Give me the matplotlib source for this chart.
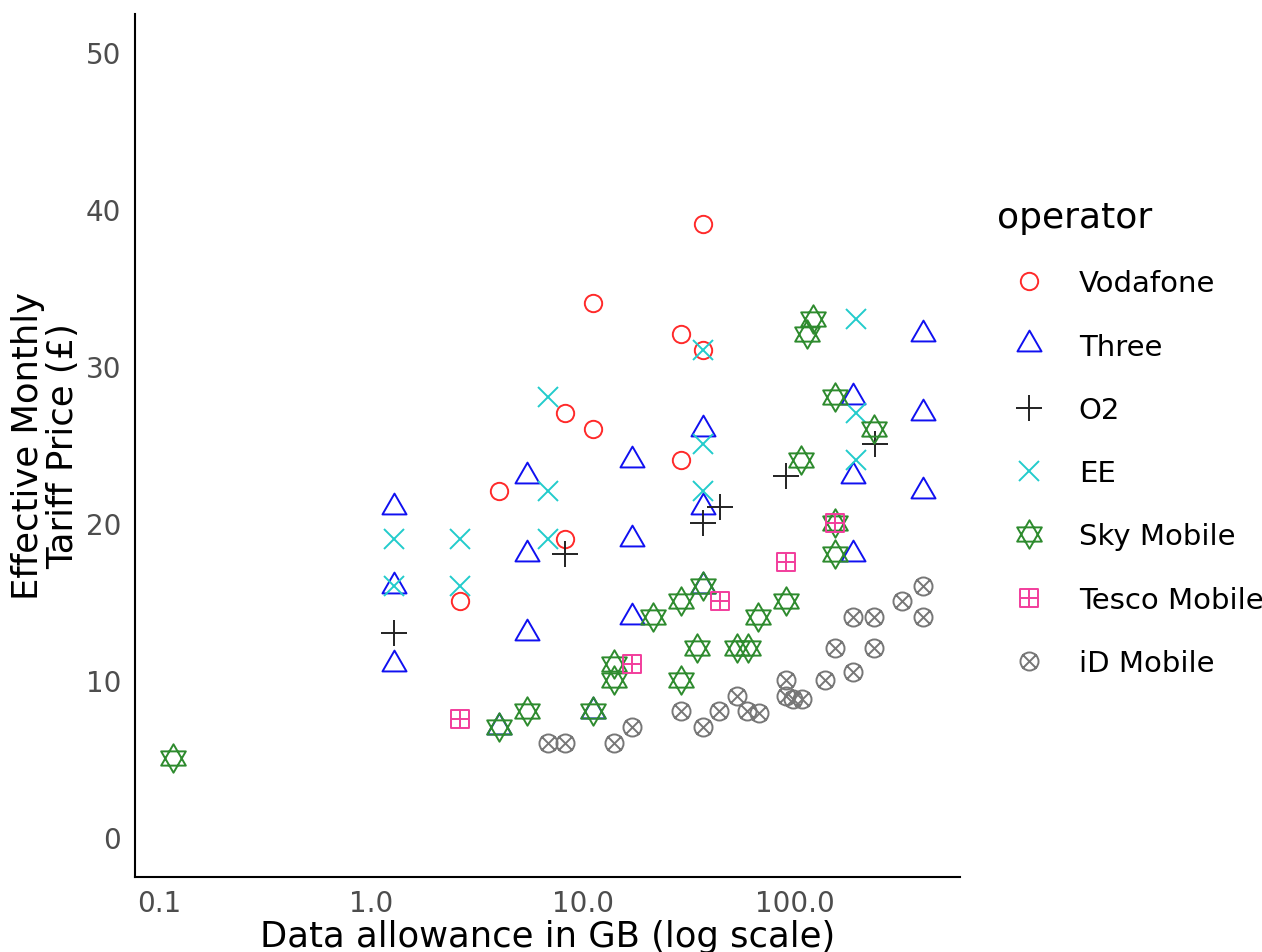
import matplotlib
matplotlib.use("Agg")
import matplotlib.pyplot as plt
import numpy as np
from matplotlib.path import Path

# data allowance (GB) and effective monthly price (GBP) per operator
vodafone_gb = [36.8, 11.1, 29, 36.8, 8.2, 11.1, 29, 4.0, 8.2, 2.63]
vodafone_price = [39, 34, 32, 31, 27, 26, 24, 22, 19, 15]

three_gb = [1.28, 1.28, 1.28, 5.45, 5.45, 5.45, 4.0, 11.1, 17, 17, 17,
            36.8, 36.8, 36.8, 188, 188, 188, 401, 401, 401]
three_price = [21, 16, 11, 23, 18, 13, 7, 8, 24, 19, 14,
               26, 21, 16, 28, 23, 18, 32, 27, 22]

o2_gb = [1.28, 8.2, 36.8, 44.3, 90.7, 238]
o2_price = [13, 18, 20, 21, 23, 25]

ee_gb = [1.28, 1.28, 2.63, 2.63, 6.84, 6.84, 6.84, 36.8, 36.8, 36.8, 194, 194, 194]
ee_price = [19, 16, 19, 16, 28, 22, 19, 31, 25, 22, 33, 27, 24]

sky_gb = [0.116, 4.0, 5.45, 11.1, 14, 14, 21.4, 29, 29, 34.5, 36.8, 53.3, 60,
          66.9, 90.7, 107, 114, 122, 154, 154, 154, 236]
sky_price = [5, 7, 8, 8, 11, 10, 14, 15, 10, 12, 16, 12, 12,
             14, 15, 24, 32, 33, 28, 20, 18, 26]

tesco_gb = [2.63, 17, 44.3, 90.7, 154]
tesco_price = [7.5, 11, 15, 17.5, 20]

id_gb = [6.84, 8.2, 14, 17, 29, 36.8, 43.8, 53.3, 59.4, 67.6, 90.7, 90.7, 98, 108,
         139, 188, 188, 154, 236, 236, 320, 401, 401]
id_price = [6, 6, 6, 7, 8, 7, 8, 9, 8, 7.9, 10, 9, 8.8, 8.8,
            10, 10.5, 14, 12, 12, 14, 15, 16, 14]

# custom ggplot-like shapes
s3 = np.sqrt(3) / 2
tri = Path([(0, 1), (-s3, -0.5), (s3, -0.5), (0, 1)],
           [Path.MOVETO, Path.LINETO, Path.LINETO, Path.CLOSEPOLY])
tri_down = Path([(0, -1), (-s3, 0.5), (s3, 0.5), (0, -1)],
                [Path.MOVETO, Path.LINETO, Path.LINETO, Path.CLOSEPOLY])
hexagram = Path.make_compound_path(tri, tri_down)
sq = Path([(-1, -1), (1, -1), (1, 1), (-1, 1), (-1, -1)],
          [Path.MOVETO, Path.LINETO, Path.LINETO, Path.LINETO, Path.CLOSEPOLY])
cross = Path([(-1, 0), (1, 0), (0, -1), (0, 1)],
             [Path.MOVETO, Path.LINETO, Path.MOVETO, Path.LINETO])
square_plus = Path.make_compound_path(sq, cross)
d = 0.78
xlines = Path([(-d, -d), (d, d), (-d, d), (d, -d)],
              [Path.MOVETO, Path.LINETO, Path.MOVETO, Path.LINETO])
circle_cross = Path.make_compound_path(Path.unit_circle(), xlines)

series = [
    ("Vodafone", vodafone_gb, vodafone_price, "o", 12.5, "#FF2A2A"),
    ("Three", three_gb, three_price, tri, 20, "#1010F0"),
    ("O2", o2_gb, o2_price, "+", 19, "#222222"),
    ("EE", ee_gb, ee_price, "x", 14.5, "#22CCCC"),
    ("Sky Mobile", sky_gb, sky_price, hexagram, 20.5, "#2E8B2E"),
    ("Tesco Mobile", tesco_gb, tesco_price, square_plus, 13, "#F23D9C"),
    ("iD Mobile", id_gb, id_price, circle_cross, 13, "#777777"),
]

fig = plt.figure(figsize=(12.62, 9.53), dpi=100)
ax = fig.add_axes([135 / 1262, 1 - 878 / 953, 825 / 1262, 863 / 953])

for name, xs, ys, mk, ms, col in series:
    ax.plot(xs, ys, linestyle="none", marker=mk, markersize=ms,
            markerfacecolor="none", markeredgecolor=col, markeredgewidth=1.4,
            label=name)

ax.set_xscale("log")
ax.set_xlim(10 ** (-236 / 212), 10 ** (589 / 212))
ax.set_ylim(-2.55, 52.4)
ax.set_xticks([0.1, 1, 10, 100])
ax.set_xticklabels(["0.1", "1.0", "10.0", "100.0"])
ax.xaxis.set_minor_locator(matplotlib.ticker.NullLocator())
ax.set_yticks([0, 10, 20, 30, 40, 50])
ax.tick_params(length=0, labelsize=20, labelcolor="#4D4D4D")
ax.tick_params(axis="x", pad=9)
ax.tick_params(axis="y", pad=10)

for side in ["top", "right"]:
    ax.spines[side].set_visible(False)
for side in ["left", "bottom"]:
    ax.spines[side].set_linewidth(1.5)
    ax.spines[side].set_color("black")

ax.set_xlabel("Data allowance in GB (log scale)", fontsize=25.5, labelpad=1)
ax.set_ylabel("Effective Monthly\nTariff Price (£)", fontsize=25.5, labelpad=4,
              linespacing=1.05)

leg = ax.legend(title="operator", loc="upper left",
                bbox_to_anchor=(997 / 1262, 1 - 201 / 953),
                bbox_transform=fig.transFigure, frameon=False, fontsize=21,
                title_fontsize=26, numpoints=1, handlelength=2.2,
                handletextpad=0.6, labelspacing=1.21, alignment="left",
                borderpad=0, borderaxespad=0)

fig.savefig("out.png", dpi=100)
